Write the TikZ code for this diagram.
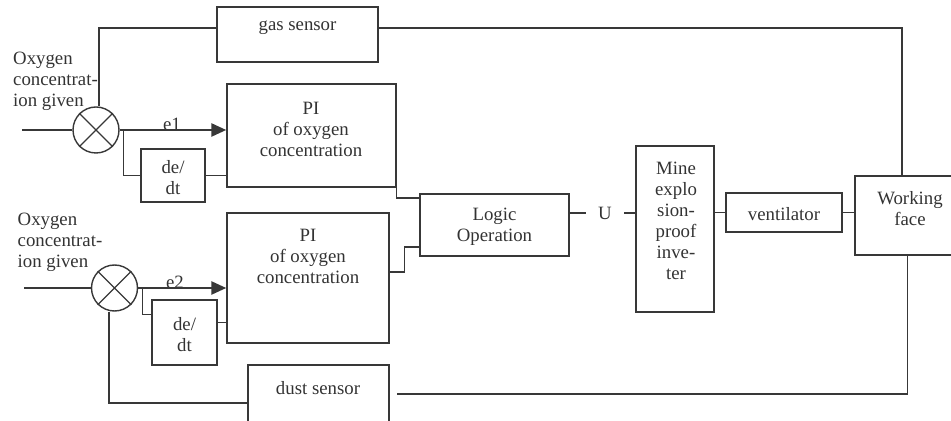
\documentclass[tikz,border=0pt]{standalone}
\usepackage{fontspec}
\setmainfont{Liberation Serif}
\usetikzlibrary{arrows.meta}
\begin{document}
\begin{tikzpicture}[x=0.5pt,y=-0.5pt,
  line width=0.7pt,
  color=black!78,
  box/.style={draw=black!78,line width=0.7pt,rectangle,inner sep=0pt},
  sum/.style={draw=black!78,line width=0.7pt,circle,inner sep=0pt,minimum size=23pt},
  lbl/.style={font=\fontsize{9.4}{10.5}\selectfont,align=center,inner sep=0pt,text=black!80},
  arr/.style={line width=1.3pt,-{Triangle[length=7.5pt,width=6.5pt]}}]
\useasboundingbox (0,0) rectangle (951,421);
% boxes
\node[box,minimum width=80.5pt,minimum height=27.5pt] (gas) at (297.5,34.5) {};
\node[box,minimum width=84.5pt,minimum height=51.5pt] (PI1) at (311.5,135.5) {};
\node[box,minimum width=32pt,minimum height=26.5pt] (de1) at (173,175.5) {};
\node[box,minimum width=81pt,minimum height=65pt] (PI2) at (308,278) {};
\node[box,minimum width=32.5pt,minimum height=32.5pt] (de2) at (184.5,332.5) {};
\node[box,minimum width=70.5pt,minimum height=33pt] (dust) at (318.5,398) {};
\node[box,minimum width=74.5pt,minimum height=31pt] (logic) at (494.5,225) {};
\node[box,minimum width=39pt,minimum height=83pt] (mine) at (675,229) {};
\node[box,minimum width=58pt,minimum height=19.5pt] (vent) at (784,212.5) {};
\node[box,minimum width=52.5pt,minimum height=39.5pt] (work) at (907.5,215.5) {};
\node[sum] (c1) at (96,130) {};
\node[sum] (c2) at (114.5,288) {};
\draw (c1.north west) -- (c1.south east) (c1.north east) -- (c1.south west);
\draw (c2.north west) -- (c2.south east) (c2.north east) -- (c2.south west);
% texts
\node[lbl] (tgas) at (297.5,28) {gas sensor};
\node[lbl] (tpi1) at (311,129) {PI\\of oxygen\\concentration};
\node[lbl] (tpi2) at (308,256) {PI\\of oxygen\\concentration};
\node[lbl] (tde1) at (173,178) {de/\\dt};
\node[lbl] (tde2) at (184.5,335) {de/\\dt};
\node[lbl] (tdust) at (318,388) {dust sensor};
\node[lbl] (tlogic) at (494.5,227) {Logic\\Operation};
\node[lbl] (tmine) at (676,221) {Mine\\explo\\sion-\\proof\\inve-\\ter};
\node[lbl] (tvent) at (784,214) {ventilator};
\node[lbl] (twork) at (910,209) {Working\\face};
\node[lbl,align=left,anchor=west] (ox1) at (12.5,81) {Oxygen\\concentrat-\\ion given};
\node[lbl,align=left,anchor=west] (ox2) at (17,242) {Oxygen\\concentrat-\\ion given};
\node[lbl,anchor=base] (e1) at (172,131) {e1};
\node[lbl,anchor=base] (e2) at (175,289) {e2};
\node[lbl,inner xsep=5.8pt] (U) at (605,213) {U};
% coordinates
\coordinate (i1) at (22,130);
\coordinate (i2) at (24,288);
\coordinate (b1) at ([xshift=2pt]c1.east);
\coordinate (b2) at ([xshift=2pt]c2.east);
\coordinate (d2in) at ([yshift=9pt]de2.west);
\coordinate (d2out) at ([yshift=5pt]de2.east);
\coordinate (p1out) at ([yshift=-7.25pt]PI1.east);
\coordinate (p2out) at ([yshift=3pt]PI2.east);
\coordinate (lin1) at ([yshift=13.5pt]logic.west);
\coordinate (lin2) at ([yshift=-11pt]logic.west);
\coordinate (lout) at ([yshift=6pt]logic.east);
\coordinate (gasin) at ([yshift=3.25pt]gas.west);
\coordinate (gasout) at ([yshift=3.25pt]gas.east);
\coordinate (c1top) at ([xshift=1.5pt]c1.north);
\coordinate (c2bot) at ([xshift=-2.75pt]c2.south);
\coordinate (worktop) at ([xshift=-2.75pt]work.north);
\coordinate (dustR) at ([xshift=3.5pt,yshift=2pt]dust.east);
\coordinate (dustL) at ([yshift=-2.5pt]dust.west);
% connectors
\draw (i1) -- (c1.west);
\draw (i2) -- (c2.west);
\draw[arr] (c1.east) -- (c1.east -| PI1.west);
\draw[arr] (c2.east) -- (c2.east -| PI2.west);
\draw (b1) |- (de1.west);
\draw (b2) |- (d2in);
\draw (de1.east) -- (de1.east -| PI1.west);
\draw (d2out) -- (d2out -| PI2.west);
\draw (p1out) |- (lin1);
\draw (p2out) -- ++(15,0) |- (lin2);
\draw (lout) -- (U.west);
\draw (U.east) -- (U.east -| mine.west);
\draw (vent.west -| mine.east) -- (vent.west);
\draw (vent.east) -- (vent.east -| work.west);
\draw (c1top) |- (gasin);
\draw (gasout) -| (worktop);
\draw (work.south) |- (dustR);
\draw (dustL) -| (c2bot);
\end{tikzpicture}
\end{document}
